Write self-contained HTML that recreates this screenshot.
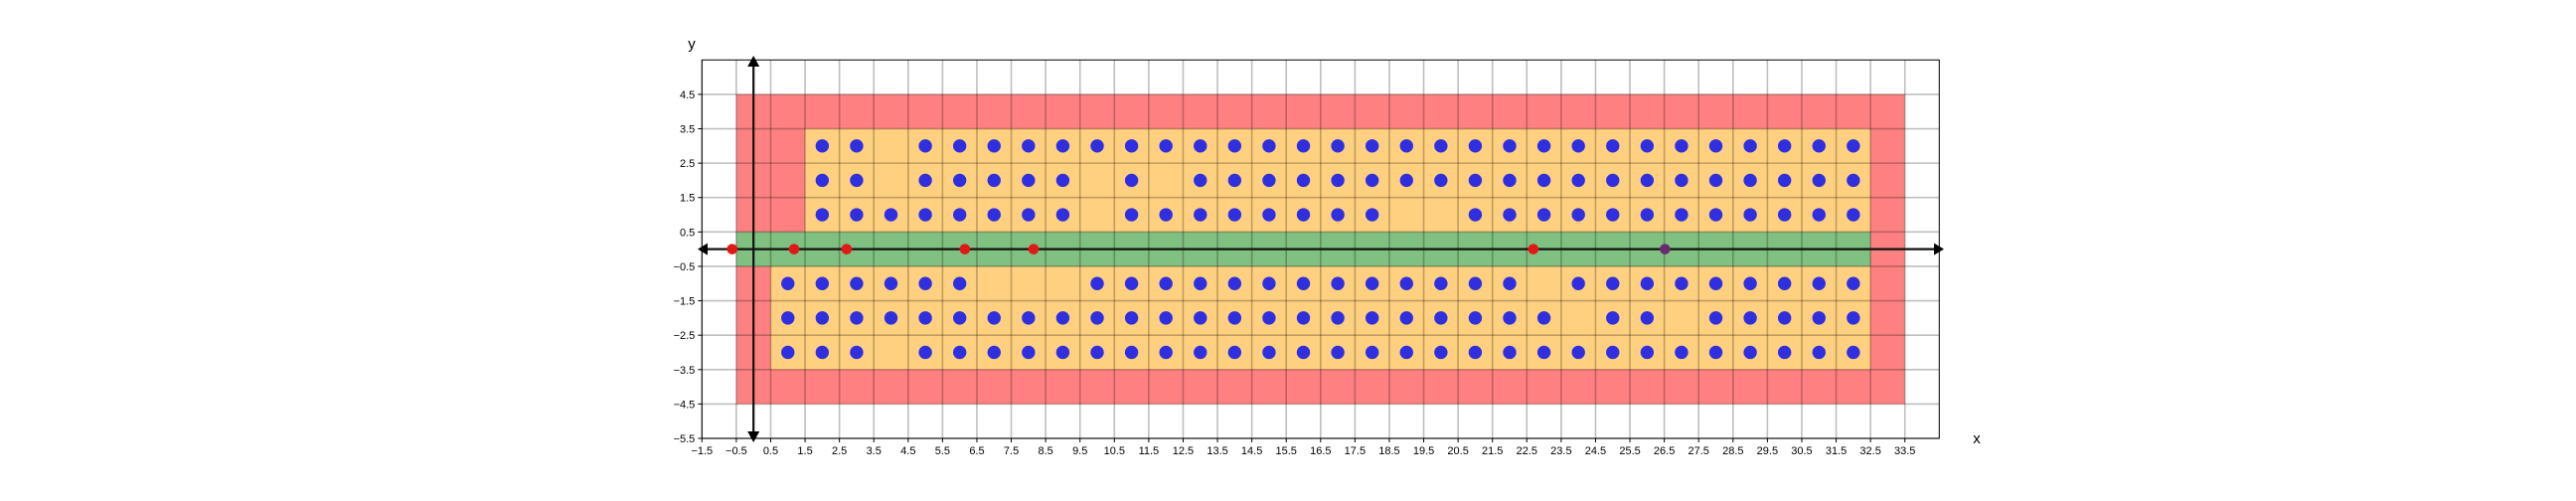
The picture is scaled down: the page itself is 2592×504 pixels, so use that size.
<!DOCTYPE html>
<html><head><meta charset="utf-8"><style>
html,body{margin:0;padding:0;background:#fff;}
svg{display:block;font-family:"Liberation Sans","DejaVu Sans",sans-serif;}
</style></head><body>
<svg id="chart" width="2592" height="504" viewBox="0 0 2592 504" xmlns="http://www.w3.org/2000/svg">
<rect width="2592" height="504" fill="#fff"/>
<g id="regions"></g>
<g id="grid"></g>
<g id="axes-arrows"></g>
<g id="points"></g>
<g id="ticks"></g>
<rect x="706.3" y="60.3" width="1245" height="380.7" fill="none" stroke="#000" stroke-width="1"/>
<text x="696" y="49" font-size="15" text-anchor="middle">y</text>
<text x="1989" y="446" font-size="15" text-anchor="middle">x</text>
</svg>
<script>
const xTicks = [-1.5,-0.5,0.5,1.5,2.5,3.5,4.5,5.5,6.5,7.5,8.5,9.5,10.5,11.5,12.5,13.5,14.5,15.5,16.5,17.5,18.5,19.5,20.5,21.5,22.5,23.5,24.5,25.5,26.5,27.5,28.5,29.5,30.5,31.5,32.5,33.5];
const yTicks = [-5.5,-4.5,-3.5,-2.5,-1.5,-0.5,0.5,1.5,2.5,3.5,4.5];
// regions: [x0,x1,y0,y1]
const redRegion = [-0.5,33.5,-4.5,4.5];
const orangeTop = [1.5,32.5,0.5,3.5];
const orangeBottom = [0.5,32.5,-3.5,-0.5];
const greenBand = [-0.5,32.5,-0.5,0.5];
// blue points per row: y value -> list of x
const rowY = [3,2,1,-1,-2,-3];
const rowXs = [
 [2,3,5,6,7,8,9,10,11,12,13,14,15,16,17,18,19,20,21,22,23,24,25,26,27,28,29,30,31,32],
 [2,3,5,6,7,8,9,11,13,14,15,16,17,18,19,20,21,22,23,24,25,26,27,28,29,30,31,32],
 [2,3,4,5,6,7,8,9,11,12,13,14,15,16,17,18,21,22,23,24,25,26,27,28,29,30,31,32],
 [1,2,3,4,5,6,10,11,12,13,14,15,16,17,18,19,20,21,22,24,25,26,27,28,29,30,31,32],
 [1,2,3,4,5,6,7,8,9,10,11,12,13,14,15,16,17,18,19,20,21,22,23,25,26,28,29,30,31,32],
 [1,2,3,5,6,7,8,9,10,11,12,13,14,15,16,17,18,19,20,21,22,23,24,25,26,27,28,29,30,31,32]
];
const redXs = [-0.62,1.18,2.71,6.15,8.15,22.69];
const purpleXs = [26.52];

const X0=706.3, X1=1951.3, XMIN=-1.5, XMAX=34.5;
const Y0=441, Y1=60.3, YMIN=-5.5, YMAX=5.5;
function sx(v){return X0+(v-XMIN)/(XMAX-XMIN)*(X1-X0);}
function sy(v){return Y0-(v-YMIN)/(YMAX-YMIN)*(Y0-Y1);}
const NS="http://www.w3.org/2000/svg";
function mk(tag,attrs,parent){const e=document.createElementNS(NS,tag);for(const k in attrs)e.setAttribute(k,attrs[k]);parent.appendChild(e);return e;}

const reg=document.getElementById('regions');
function region(r,fill,name){
 const e=mk('rect',{x:sx(r[0]),y:sy(r[3]),width:sx(r[1])-sx(r[0]),height:sy(r[2])-sy(r[3]),fill:fill},reg);
 
 
}
region(redRegion,'#ff8080','red-region');
region(orangeTop,'#ffd080','orange-top-region');
region(orangeBottom,'#ffd080','orange-bottom-region');
region(greenBand,'#80c080','green-band');

const grid=document.getElementById('grid');
const ticks=document.getElementById('ticks');
xTicks.forEach(t=>{
 const l=mk('line',{x1:sx(t),x2:sx(t),y1:Y1,y2:Y0,stroke:'rgba(0,0,0,0.25)','stroke-width':1.6},grid);
 
 
 mk('line',{x1:sx(t),x2:sx(t),y1:Y0,y2:Y0+4,stroke:'#000','stroke-width':1},ticks);
 const tx=mk('text',{x:sx(t),y:Y0+16,'font-size':11,'text-anchor':'middle'},ticks);
 tx.textContent=(t<0?'\u2212':'')+Math.abs(t).toFixed(1);
 
 
});
yTicks.forEach(t=>{
 const l=mk('line',{x1:X0,x2:X1,y1:sy(t),y2:sy(t),stroke:'rgba(0,0,0,0.25)','stroke-width':1.6},grid);
 
 
 mk('line',{x1:X0-4,x2:X0,y1:sy(t),y2:sy(t),stroke:'#000','stroke-width':1},ticks);
 const tx=mk('text',{x:X0-7,y:sy(t)+4,'font-size':11,'text-anchor':'end'},ticks);
 tx.textContent=(t<0?'\u2212':'')+Math.abs(t).toFixed(1);
 
 
});

const ax=document.getElementById('axes-arrows');
const hy=sy(0), vx=sx(0);
const hl=mk('line',{x1:709,x2:1948,y1:hy,y2:hy,stroke:'#111','stroke-width':2.2},ax);


const vl=mk('line',{x1:vx,x2:vx,y1:62,y2:440,stroke:'#111','stroke-width':2.2},ax);


[[`702,${hy} 712,${hy-6} 712,${hy+6}`,'arrow-left'],[`1956,${hy} 1946,${hy-6} 1946,${hy+6}`,'arrow-right'],
 [`${vx},56 ${vx-6},67 ${vx+6},67`,'arrow-up'],[`${vx},445 ${vx-6},434 ${vx+6},434`,'arrow-down']].forEach(p=>{
 const e=mk('polygon',{points:p[0],fill:'#000'},ax);
 
 
});

const pts=document.getElementById('points');
rowY.forEach((y,i)=>{
 rowXs[i].forEach(x=>{
  const c=mk('circle',{cx:sx(x),cy:sy(y),r:6.7,fill:'#2f2fe0'},pts);
  
  
 });
});
redXs.forEach(x=>{
 const c=mk('circle',{cx:sx(x),cy:sy(0),r:5.3,fill:'#e01818'},pts);
 
 
});
purpleXs.forEach(x=>{
 const c=mk('circle',{cx:sx(x),cy:sy(0),r:5.3,fill:'#6a2a6e'},pts);
 
 
});
</script>
</body></html>
